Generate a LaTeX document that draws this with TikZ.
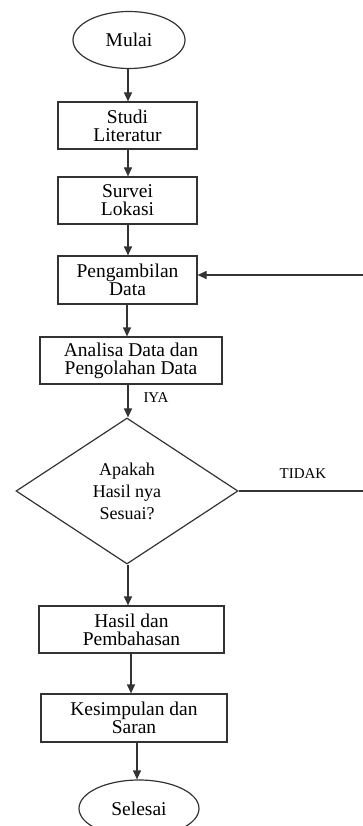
\documentclass[tikz,border=0pt]{standalone}
\usepackage{fontspec}
\setmainfont{Liberation Serif}
\usetikzlibrary{shapes.geometric,arrows.meta}

\tikzset{
  proses/.style={draw=black!80, line width=1.2pt, rectangle, align=center, inner sep=0pt, minimum height=47pt, font=\fontsize{19.5}{18}\selectfont},
  terminal/.style={draw=black!80, line width=1.2pt, ellipse, minimum width=112pt, minimum height=57pt, inner sep=0pt, font=\fontsize{19.5}{18}\selectfont},
  keputusan/.style={draw=black!80, line width=1.2pt, diamond, minimum width=222pt, minimum height=146pt, inner sep=0pt, align=center, font=\fontsize{18}{22}\selectfont},
  alur/.style={draw=black!80, line width=1.2pt, ->},
  label/.style={font=\fontsize{15}{15}\selectfont},
  >={Triangle[length=9pt,width=8pt]}
}

\begin{document}
\begin{tikzpicture}[x=1pt,y=-1pt]
\useasboundingbox (0,0) rectangle (363,826);

\node[terminal] (mulai) at (129,40) {Mulai};
\node[proses, minimum width=139pt] (studi) at (127.5,125.5) {Studi\\Literatur};
\node[proses, minimum width=139pt] (survei) at (127.5,200.5) {Survei\\Lokasi};
\node[proses, minimum width=139pt, minimum height=48pt] (ambil) at (127.5,280) {Pengambilan\\Data};
\node[proses, minimum width=182pt] (analisa) at (131,360.5) {Analisa Data dan\\Pengolahan Data};
\node[keputusan] (sesuai) at (127,491) {Apakah\\Hasil nya\\Sesuai?};
\node[proses, minimum width=185pt] (hasil) at (131.5,629.5) {Hasil dan\\Pembahasan};
\node[proses, minimum width=186pt, minimum height=48pt] (kesimpulan) at (134,718) {Kesimpulan dan\\Saran};
\node[terminal, minimum width=120pt] (selesai) at (139,808.5) {Selesai};

\node[label] (iya) at (156,398) {IYA};
\node[label] (tidak) at (303,474) {TIDAK};

\coordinate (kanan) at (366,491);
\coordinate (atas) at (366,275);

\draw[alur] (128,69) -- (studi.north -| 128,0);
\draw[alur] (studi.south -| 128,0) -- (survei.north -| 128,0);
\draw[alur] (survei.south -| 128,0) -- (ambil.north -| 128,0);
\draw[alur] (ambil.south -| 127,0) -- (analisa.north -| 127,0);
\draw[alur] (analisa.south -| 128,0) -- (sesuai.north -| 128,0);
\draw[alur] (sesuai.south -| 128,0) -- (hasil.north -| 128,0);
\draw[alur] (hasil.south -| 131,0) -- (kesimpulan.north -| 131,0);
\draw[alur] (kesimpulan.south -| 137,0) -- (selesai.north -| 137,0);
\draw[alur] (sesuai.east) -- (kanan) -- (atas) -- (atas -| ambil.east);

\end{tikzpicture}
\end{document}
